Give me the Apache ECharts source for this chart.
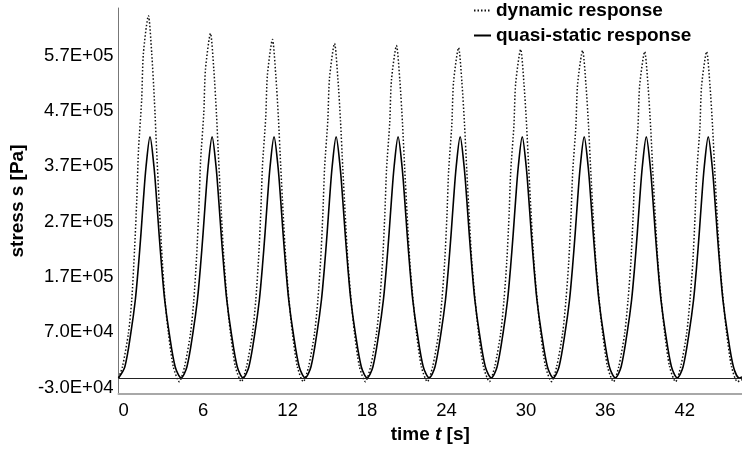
<!DOCTYPE html>
<html>
<head>
<meta charset="utf-8">
<script src="https://cdn.jsdelivr.net/npm/echarts@6/dist/echarts.min.js"></script>
<style>
html,body{margin:0;padding:0;background:#fff;}
#chart{width:742px;height:452px;}
</style>
</head>
<body>
<div id="chart"></div>
<script>
// ---- data ----
const xTickStep = 6;
const yTickValues = [-30000, 70000, 170000, 270000, 370000, 470000, 570000];
const seriesNames = ['dynamic response', 'quasi-static response'];

const quasiTime = [
  0, 0.48, 0.93, 1.27, 1.50, 1.70, 1.88, 2.08, 2.38, 2.68, 2.88, 3.06, 3.26, 3.49, 3.83, 4.28,
  4.73, 5.17, 5.62, 5.96, 6.19, 6.39, 6.57, 6.77, 7.07, 7.37, 7.57, 7.75, 7.95, 8.18, 8.52, 8.97,
  9.41, 9.85, 10.30, 10.64, 10.87, 11.07, 11.25, 11.45, 11.75, 12.05, 12.25, 12.43, 12.63, 12.86, 13.20, 13.65,
  14.10, 14.54, 14.99, 15.33, 15.56, 15.76, 15.94, 16.14, 16.44, 16.74, 16.94, 17.12, 17.32, 17.55, 17.89, 18.34,
  18.78, 19.22, 19.67, 20.01, 20.24, 20.44, 20.62, 20.82, 21.12, 21.42, 21.62, 21.80, 22.00, 22.23, 22.57, 23.02,
  23.47, 23.91, 24.36, 24.70, 24.93, 25.13, 25.31, 25.51, 25.81, 26.11, 26.31, 26.49, 26.69, 26.92, 27.26, 27.71,
  28.16, 28.60, 29.05, 29.39, 29.62, 29.82, 30.00, 30.20, 30.50, 30.80, 31.00, 31.18, 31.38, 31.61, 31.95, 32.40,
  32.84, 33.28, 33.73, 34.07, 34.30, 34.50, 34.68, 34.88, 35.18, 35.48, 35.68, 35.86, 36.06, 36.29, 36.63, 37.08,
  37.53, 37.97, 38.42, 38.76, 38.99, 39.19, 39.37, 39.57, 39.87, 40.17, 40.37, 40.55, 40.75, 40.98, 41.32, 41.77,
  42.21, 42.65, 43.10, 43.44, 43.67, 43.87, 44.05, 44.25, 44.55, 44.85, 45.05, 45.23, 45.43, 45.66, 46.00, 46.45,
  46.89, 47.1
];
const quasiStress = [
  -30000, -9600, 51000, 111000, 171000, 232000, 292000, 352000, 406000, 352000, 292000, 232000, 171000, 111000, 51000, -9600,
  -30000, -9600, 51000, 111000, 171000, 232000, 292000, 352000, 406000, 352000, 292000, 232000, 171000, 111000, 51000, -9600,
  -30000, -9600, 51000, 111000, 171000, 232000, 292000, 352000, 406000, 352000, 292000, 232000, 171000, 111000, 51000, -9600,
  -30000, -9600, 51000, 111000, 171000, 232000, 292000, 352000, 406000, 352000, 292000, 232000, 171000, 111000, 51000, -9600,
  -30000, -9600, 51000, 111000, 171000, 232000, 292000, 352000, 406000, 352000, 292000, 232000, 171000, 111000, 51000, -9600,
  -30000, -9600, 51000, 111000, 171000, 232000, 292000, 352000, 406000, 352000, 292000, 232000, 171000, 111000, 51000, -9600,
  -30000, -9600, 51000, 111000, 171000, 232000, 292000, 352000, 406000, 352000, 292000, 232000, 171000, 111000, 51000, -9600,
  -30000, -9600, 51000, 111000, 171000, 232000, 292000, 352000, 406000, 352000, 292000, 232000, 171000, 111000, 51000, -9600,
  -30000, -9600, 51000, 111000, 171000, 232000, 292000, 352000, 406000, 352000, 292000, 232000, 171000, 111000, 51000, -9600,
  -30000, -9600, 51000, 111000, 171000, 232000, 292000, 352000, 406000, 352000, 292000, 232000, 171000, 111000, 51000, -9600,
  -30000, -28000
];

const dynamicTime = [
  0,
  0.30, 0.75, 1.00, 1.21, 1.38, 1.51, 1.75, 1.88, 2.26, 2.51, 2.71, 2.88, 3.06, 3.26, 3.51, 3.77, 4.14, 4.59,
  4.99, 5.44, 5.69, 5.90, 6.07, 6.20, 6.44, 6.57, 6.95, 7.20, 7.40, 7.57, 7.75, 7.95, 8.20, 8.46, 8.83, 9.28,
  9.67, 10.12, 10.37, 10.58, 10.75, 10.88, 11.12, 11.25, 11.63, 11.88, 12.08, 12.25, 12.43, 12.63, 12.88, 13.14, 13.51, 13.96,
  14.36, 14.81, 15.06, 15.27, 15.44, 15.57, 15.81, 15.94, 16.32, 16.57, 16.77, 16.94, 17.12, 17.32, 17.57, 17.83, 18.20, 18.65,
  19.04, 19.49, 19.74, 19.95, 20.12, 20.25, 20.49, 20.62, 21.00, 21.25, 21.45, 21.62, 21.80, 22.00, 22.25, 22.51, 22.88, 23.33,
  23.73, 24.18, 24.43, 24.64, 24.81, 24.94, 25.18, 25.31, 25.69, 25.94, 26.14, 26.31, 26.49, 26.69, 26.94, 27.20, 27.57, 28.02,
  28.42, 28.87, 29.12, 29.33, 29.50, 29.63, 29.87, 30.00, 30.38, 30.63, 30.83, 31.00, 31.18, 31.38, 31.63, 31.89, 32.26, 32.71,
  33.10, 33.55, 33.80, 34.01, 34.18, 34.31, 34.55, 34.68, 35.06, 35.31, 35.51, 35.68, 35.86, 36.06, 36.31, 36.57, 36.94, 37.39,
  37.79, 38.24, 38.49, 38.70, 38.87, 39.00, 39.24, 39.37, 39.75, 40.00, 40.20, 40.37, 40.55, 40.75, 41.00, 41.26, 41.63, 42.08,
  42.47, 42.92, 43.17, 43.38, 43.55, 43.68, 43.92, 44.05, 44.43, 44.68, 44.88, 45.05, 45.23, 45.43, 45.68, 45.94, 46.31, 46.76,
  47.1
];
const dynamicStress = [
  -30000,
  -9600, 51000, 111000, 201000, 292000, 382000, 473000, 557000, 625000, 557000, 473000, 382000, 292000, 201000, 111000, 51000, -9600, -36700,
  -9600, 51000, 111000, 190000, 276000, 362000, 448000, 528000, 593000, 528000, 448000, 362000, 276000, 190000, 111000, 51000, -9600, -36700,
  -9600, 51000, 111000, 186000, 271000, 355000, 440000, 518000, 582000, 518000, 440000, 355000, 271000, 186000, 111000, 51000, -9600, -36700,
  -9600, 51000, 111000, 183000, 268000, 351000, 435000, 512000, 575000, 512000, 435000, 351000, 268000, 183000, 111000, 51000, -9600, -36700,
  -9600, 51000, 111000, 182000, 266000, 348000, 432000, 509000, 571000, 509000, 432000, 348000, 266000, 182000, 111000, 51000, -9600, -36700,
  -9600, 51000, 111000, 180000, 263000, 345000, 428000, 505000, 567000, 505000, 428000, 345000, 263000, 180000, 111000, 51000, -9600, -36700,
  -9600, 51000, 111000, 180000, 262000, 344000, 426000, 502000, 564000, 502000, 426000, 344000, 262000, 180000, 111000, 51000, -9600, -36700,
  -9600, 51000, 111000, 179000, 261000, 342000, 425000, 501000, 562000, 501000, 425000, 342000, 261000, 179000, 111000, 51000, -9600, -36700,
  -9600, 51000, 111000, 178000, 260000, 341000, 423000, 499000, 560000, 499000, 423000, 341000, 260000, 178000, 111000, 51000, -9600, -36700,
  -9600, 51000, 111000, 178000, 260000, 341000, 423000, 499000, 560000, 499000, 423000, 341000, 260000, 178000, 111000, 51000, -9600, -36700,
  -33000
];
const baselineValue = -30000;

// ---- chart ----
function zip(a, b) { return a.map((v, i) => [v, b[i]]); }
function sci(v) {
  const parts = v.toExponential(1).split('e');
  const sign = parts[1][0];
  const digits = parts[1].slice(1).padStart(2, '0');
  return parts[0] + 'E' + sign + digits;
}
const FONT = 'Arial, "Liberation Sans", Helvetica, sans-serif';

const chart = echarts.init(document.getElementById('chart'));
chart.setOption({
  animation: false,
  backgroundColor: '#fff',
  textStyle: { fontFamily: FONT, color: '#000' },
  grid: { left: 117, right: 0, top: 8, bottom: 58 },
  legend: {
    orient: 'vertical',
    left: 473,
    top: 1,
    padding: 0,
    itemGap: 6,
    itemWidth: 17,
    itemHeight: 10,
    itemStyle: { color: 'rgba(0,0,0,0)', borderWidth: 0, opacity: 0 },
    textStyle: { fontFamily: FONT, fontSize: 19, fontWeight: 'bold', color: '#000' },
    data: seriesNames
  },
  xAxis: {
    type: 'value',
    min: 0,
    max: 47.1,
    interval: xTickStep,
    name: '{n|time }{i|t}{n| [s]}',
    nameLocation: 'middle',
    nameGap: 31,
    nameTextStyle: {
      rich: {
        n: { fontFamily: FONT, fontSize: 19, fontWeight: 'bold', color: '#000' },
        i: { fontFamily: FONT, fontSize: 19, fontWeight: 'bold', fontStyle: 'italic', color: '#000' }
      }
    },
    axisLine: { show: true, onZero: false, lineStyle: { color: '#a8a8a8', width: 2 } },
    axisTick: { show: false },
    splitLine: { show: false },
    axisLabel: {
      align: 'left',
      margin: 7,
      fontSize: 18.5,
      color: '#000',
      fontFamily: FONT,
      showMaxLabel: false
    }
  },
  yAxis: {
    type: 'value',
    min: -59000,
    max: 639000,
    name: '{n|stress }{i|s}{n| [Pa]}',
    nameLocation: 'middle',
    nameRotate: 90,
    nameGap: 86,
    nameTextStyle: {
      rich: {
        n: { fontFamily: FONT, fontSize: 19, fontWeight: 'bold', color: '#000' },
        i: { fontFamily: FONT, fontSize: 19, fontWeight: 'bold', color: '#000' }
      }
    },
    axisLine: { show: true, onZero: false, lineStyle: { color: '#777', width: 1 } },
    axisTick: { show: false },
    splitLine: { show: false },
    axisLabel: {
      customValues: yTickValues,
      formatter: sci,
      verticalAlign: 'top',
      margin: 5,
      fontSize: 18.5,
      color: '#000',
      fontFamily: FONT
    }
  },
  series: [
    {
      name: seriesNames[0],
      type: 'line',
      data: zip(dynamicTime, dynamicStress),
      showSymbol: false,
      symbol: 'none',
      smooth: 0.25,
      lineStyle: { color: '#111', width: 1.5, type: [1.5, 2] },
      itemStyle: { color: '#111' },
      z: 3
    },
    {
      name: seriesNames[1],
      type: 'line',
      data: zip(quasiTime, quasiStress),
      showSymbol: false,
      symbol: 'none',
      smooth: 0.3,
      lineStyle: { color: '#000', width: 1.6, type: 'solid' },
      itemStyle: { color: '#000' },
      z: 4,
      markLine: {
        silent: true,
        symbol: 'none',
        label: { show: false },
        lineStyle: { color: '#222', width: 1, type: 'solid' },
        data: [{ yAxis: baselineValue }]
      }
    }
  ]
});
</script>
</body>
</html>
